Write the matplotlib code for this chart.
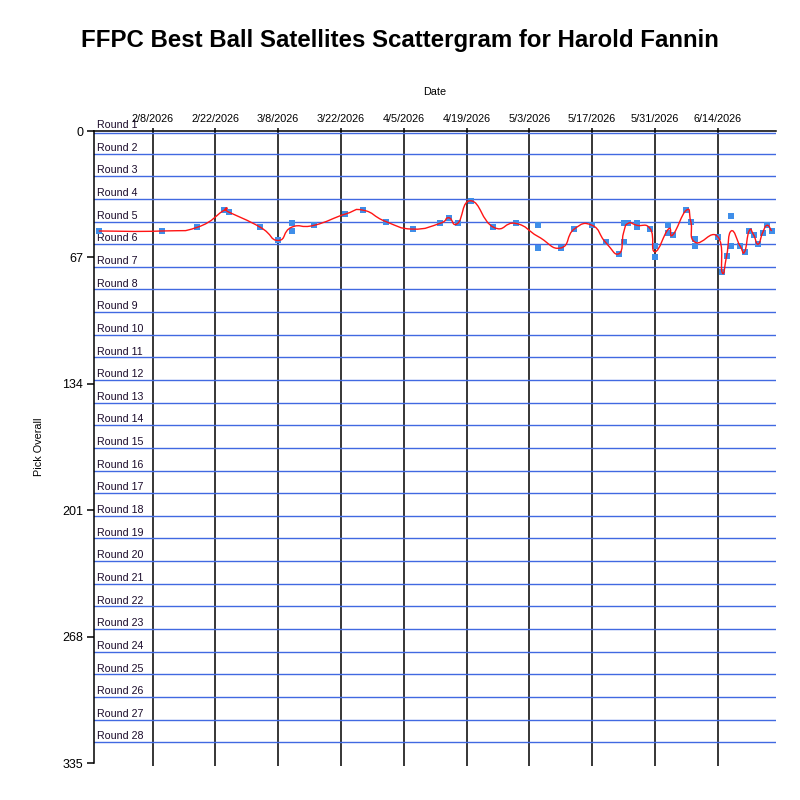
import numpy as np
import pandas as pd
import matplotlib
matplotlib.use('Agg')
import matplotlib.pyplot as plt
import matplotlib.dates as mdates
import matplotlib.ticker as ticker
from matplotlib.path import Path
from matplotlib.patches import PathPatch

plt.rcParams['font.family'] = ['Liberation Sans', 'DejaVu Sans']

TITLE = "FFPC Best Ball Satellites Scattergram for Harold Fannin"

# one entry per draft: date and overall pick
draft_dates = [
    '2026-01-27', '2026-02-10', '2026-02-18', '2026-02-24', '2026-02-25',
    '2026-03-04', '2026-03-08', '2026-03-11', '2026-03-11', '2026-03-16',
    '2026-03-23', '2026-03-27', '2026-04-01', '2026-04-07', '2026-04-13',
    '2026-04-15', '2026-04-17', '2026-04-20', '2026-04-25', '2026-04-30',
    '2026-05-05', '2026-05-05', '2026-05-10', '2026-05-13', '2026-05-17',
    '2026-05-20', '2026-05-23', '2026-05-24', '2026-05-24', '2026-05-25',
    '2026-05-27', '2026-05-27', '2026-05-30', '2026-05-31', '2026-05-31',
    '2026-06-03', '2026-06-03', '2026-06-04', '2026-06-07', '2026-06-08',
    '2026-06-09', '2026-06-09', '2026-06-14', '2026-06-15', '2026-06-16',
    '2026-06-17', '2026-06-17', '2026-06-19', '2026-06-20', '2026-06-21',
    '2026-06-22', '2026-06-23', '2026-06-24', '2026-06-25', '2026-06-26',
]
pick_overall = [
    53, 53, 51, 42, 43,
    51, 58, 49, 53, 50,
    44, 42, 48, 52, 49,
    46, 49, 37, 51, 49,
    50, 62, 62, 52, 50,
    59, 65, 59, 49, 49,
    49, 51, 52, 61, 67,
    50, 54, 55, 42, 48,
    57, 61, 56, 75, 66,
    45, 61, 61, 64, 53,
    55, 60, 54, 50, 53,
]

x_start, x_end = '2026-01-26', '2026-06-27'
first_date_tick = '2026-02-08'
y_ticks = [0, 67, 134, 201, 268, 335]
picks_per_round = 12
n_rounds = 28

df = pd.DataFrame({'date': pd.to_datetime(draft_dates), 'pick': pick_overall})
avg = df.groupby('date')['pick'].mean().reset_index()


def cardinal_path(xs, ys, tension=0.8):
    # bezier form of a cardinal spline (same as a GDI+ curve)
    pts = np.column_stack([xs, ys])
    n = len(pts)
    verts = [pts[0]]
    codes = [Path.MOVETO]
    for i in range(n - 1):
        p0 = pts[max(i - 1, 0)]
        p1 = pts[i]
        p2 = pts[i + 1]
        p3 = pts[min(i + 2, n - 1)]
        c1 = p1 + tension / 3.0 * (p2 - p0)
        c2 = p2 - tension / 3.0 * (p3 - p1)
        verts += [c1, c2, p2]
        codes += [Path.CURVE4] * 3
    return Path(verts, codes)


fig = plt.figure(figsize=(8, 8), dpi=100)
fig.patch.set_facecolor('white')
ax = fig.add_axes([94.3 / 800, 37 / 800, (776 - 94.3) / 800, (763 - 131) / 800])

ax.set_xlim(pd.Timestamp(x_start), pd.Timestamp(x_end))
ax.set_ylim(335, 0)

# round boundaries
for r in range(1, n_rounds + 1):
    yline = max(picks_per_round * (r - 1), 1)
    ax.axhline(yline, color='#4169e1', linewidth=1.0, zorder=1)
    ax.text(0.004, picks_per_round * (r - 1) - 1.5, f'Round {r}', transform=ax.get_yaxis_transform(),
            ha='left', va='baseline', fontsize=7.7, color='#1a0a2a', zorder=2)

# date gridlines
xt = pd.date_range(first_date_tick, x_end, freq='14D')
ax.set_xticks(xt)
ax.xaxis.set_major_formatter(ticker.FuncFormatter(
    lambda v, pos: (lambda d: f'{d.month}/{d.day}/{d.year}')(mdates.num2date(v))))
ax.grid(True, axis='x', color='black', linewidth=1.1, zorder=1)
ax.set_axisbelow(True)

ax.set_yticks(y_ticks)

ax.scatter(df['date'], df['pick'], marker='s', s=20, color='#3f8ee9', linewidths=0, zorder=3)

xs = mdates.date2num(avg['date'])
curve = cardinal_path(xs, avg['pick'].values)
ax.add_patch(PathPatch(curve, facecolor='none', edgecolor='#ff1414', linewidth=1.0, zorder=4))

# axes styling
ax.spines['right'].set_visible(False)
ax.spines['bottom'].set_visible(False)
ax.spines['top'].set_color('black')
ax.spines['left'].set_color('black')
ax.spines['top'].set_linewidth(1.1)
ax.spines['left'].set_linewidth(1.1)
ax.xaxis.tick_top()
ax.tick_params(axis='x', which='major', top=True, bottom=True, labelbottom=False, labeltop=True,
               length=6, width=1.1, pad=2.5, labelsize=7.8, direction='out')
ax.tick_params(axis='x', which='major', bottom=True, length=2.5)
ax.tick_params(axis='y', length=5, width=1.1, pad=3, labelsize=9)

ax.xaxis.set_label_position('top')
ax.set_xlabel('Date', fontsize=7.8, labelpad=14)
ax.set_ylabel('Pick Overall', fontsize=7.8, labelpad=13)

fig.suptitle(TITLE, x=0.5, y=1 - 40 / 800, va='center', fontsize=17.3, fontweight='bold')

plt.savefig('out.png', dpi=100, facecolor=fig.get_facecolor())
plt.close(fig)
